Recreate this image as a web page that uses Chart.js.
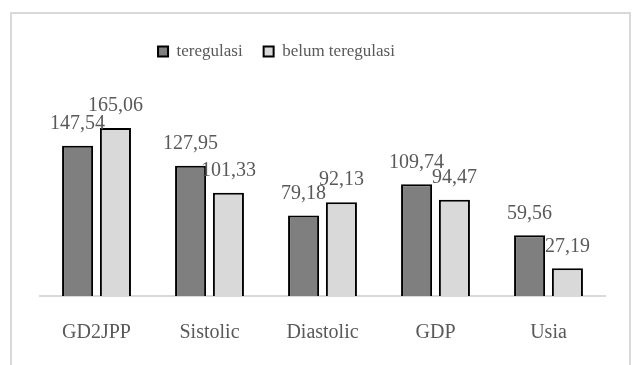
<!DOCTYPE html>
<html>
<head>
<meta charset="utf-8">
<script src="https://cdn.jsdelivr.net/npm/chart.js@4"></script>
<style>
  body { margin: 0; background: #fff; }
  #frame { position: absolute; left: 10px; top: 12px; width: 617px; height: 360px; border: 2px solid #d9d9d9; }
  #miGrafico { position: absolute; left: 0; top: 0; }
</style>
</head>
<body>
<div id="frame"><canvas id="miGrafico" width="617" height="351"></canvas></div>
<script>
// data
const kategori = ['GD2JPP', 'Sistolic', 'Diastolic', 'GDP', 'Usia'];
const teregulasi = [147.54, 127.95, 79.18, 109.74, 59.56];
const belumTeregulasi = [165.06, 101.33, 92.13, 94.47, 27.19];

const abu = '#595959';

// labels above each bar, comma decimal like the original
const labelBar = {
  id: 'labelBar',
  afterDatasetsDraw(chart) {
    const ctx = chart.ctx;
    ctx.save();
    ctx.font = '20px "Liberation Serif"';
    ctx.fillStyle = abu;
    ctx.textAlign = 'center';
    ctx.textBaseline = 'middle';
    chart.data.datasets.forEach((ds, i) => {
      chart.getDatasetMeta(i).data.forEach((bar, j) => {
        ctx.fillText(ds.data[j].toFixed(2).replace('.', ','), bar.x, bar.y - 22);
      });
    });
    ctx.restore();
  }
};

// the legend in the original sits a bit left of centre
const geserLegend = {
  id: 'geserLegend',
  afterLayout(chart) {
    chart.legend.left -= 46;
    chart.legend.right -= 46;
  }
};

new Chart(document.getElementById('miGrafico'), {
  type: 'bar',
  data: {
    labels: kategori,
    datasets: [{
        label: 'teregulasi',
        data: teregulasi,
        backgroundColor: '#7f7f7f',
        borderColor: '#000',
        borderWidth: 2,
        borderSkipped: 'bottom',
      },
      {
        label: 'belum teregulasi',
        data: belumTeregulasi,
        backgroundColor: '#d9d9d9',
        borderColor: '#000',
        borderWidth: 2,
        borderSkipped: 'bottom',
      }
    ],
  },
  options: {
    responsive: false,
    animation: false,
    categoryPercentage: 0.67,
    barPercentage: 0.82,
    layout: { padding: { left: 28, right: 24, top: 8, bottom: 3 } },
    plugins: {
      tooltip: { enabled: false },
      legend: {
        position: 'top',
        labels: {
          boxWidth: 10,
          boxHeight: 10,
          padding: 21,
          color: abu,
          font: { family: 'Liberation Serif', size: 17 },
        }
      }
    },
    scales: {
      x: {
        grid: { display: false },
        border: { display: true, color: '#d9d9d9', width: 2 },
        ticks: { color: abu, padding: 17, font: { family: 'Liberation Serif', size: 20 } }
      },
      y: {
        display: false,
        min: 0,
        max: 222
      }
    }
  },
  plugins: [labelBar, geserLegend]
});
</script>
</body>
</html>
